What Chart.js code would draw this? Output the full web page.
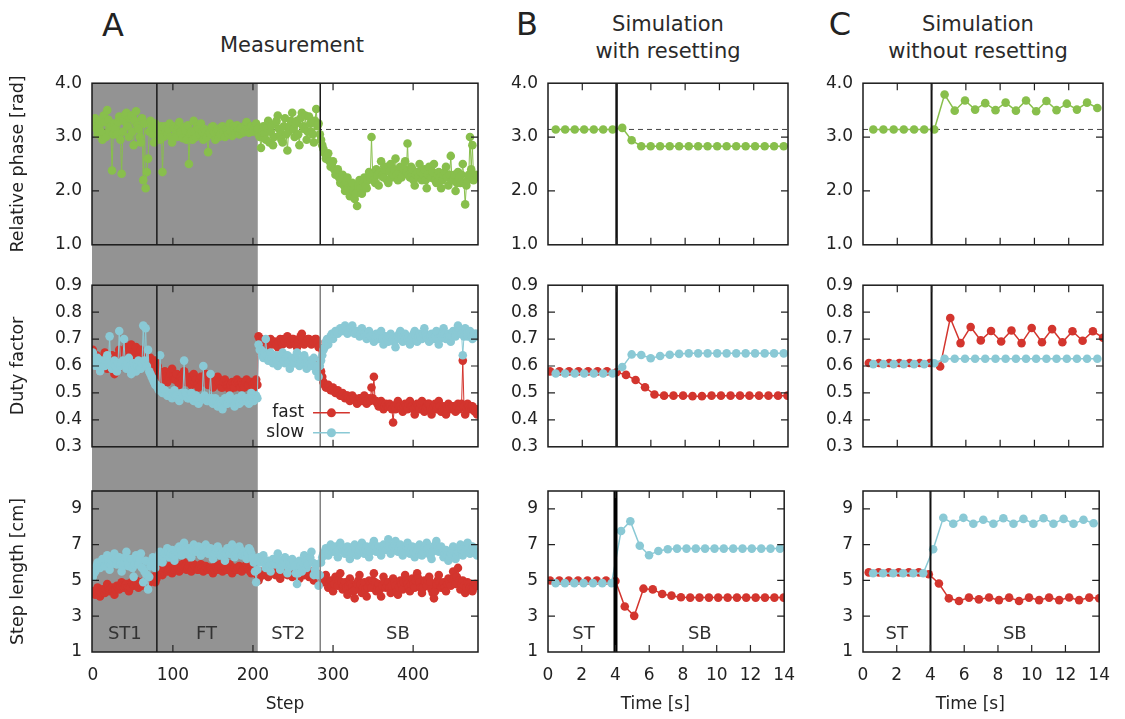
<!DOCTYPE html>
<html><head><meta charset="utf-8">
<script src="https://cdn.jsdelivr.net/npm/chart.js@4.4.1/dist/chart.umd.min.js"></script>
<style>
html,body{margin:0;padding:0;background:#fff;}
body{width:1125px;height:719px;position:relative;overflow:hidden;font-family:'DejaVu Sans',sans-serif;color:#2a2a2a;}
canvas{position:absolute;}
.t{position:absolute;text-align:center;white-space:nowrap;}
</style></head><body>
<div class="t" style="left:63px;top:9px;width:100px;font-size:32px;line-height:32px;color:#222;">A</div>
<div class="t" style="left:192px;top:35px;width:200px;font-size:21px;line-height:21px;">Measurement</div>
<div class="t" style="left:477px;top:8px;width:100px;font-size:32px;line-height:32px;color:#222;">B</div>
<div class="t" style="left:568px;top:11px;width:200px;font-size:21px;line-height:27px;">Simulation<br>with resetting</div>
<div class="t" style="left:790px;top:8px;width:100px;font-size:32px;line-height:32px;color:#222;">C</div>
<div class="t" style="left:878px;top:11px;width:200px;font-size:21px;line-height:27px;">Simulation<br>without resetting</div>
<script>
// ---------- DATA ----------
// Panel A (measurement). "...A" arrays: samples at steps 0,3,6,...,480;
// "...A2" arrays: samples at steps 1.5,4.5,...,478.5 (read between them).
const phaseA = [
3.22,3.35,3.05,3.30,2.95,3.28,3.50,3.10,2.38,3.25,
3.05,3.38,2.32,3.30,3.45,3.00,3.40,2.85,3.48,3.15,
2.90,2.20,2.05,2.60,3.30,3.05,3.25,3.15,2.95,2.35,
3.20,3.05,3.25,2.90,3.15,3.00,3.28,3.05,3.18,2.95,
2.50,3.10,3.30,3.00,3.15,3.25,2.95,3.10,2.72,3.05,
3.20,2.95,3.15,3.05,3.20,3.00,3.12,3.25,3.02,3.15,
3.22,3.05,3.18,3.10,3.28,3.08,3.20,3.12,3.25,3.05,
2.80,3.20,2.95,3.30,3.10,2.85,3.25,3.40,3.05,2.90,
3.35,2.75,3.20,3.45,3.00,3.30,2.85,3.45,3.15,2.95,
3.38,3.10,2.90,3.52,3.25,2.95,2.78,2.60,2.70,2.45,
2.55,2.30,2.40,2.15,2.30,2.00,2.25,1.90,2.15,1.85,
1.72,2.20,1.95,2.25,2.05,2.35,3.00,2.20,2.40,2.10,
2.55,2.25,2.45,2.15,2.50,2.30,2.60,2.20,2.45,2.30,
2.55,2.88,2.25,2.40,2.10,2.35,2.50,2.20,2.40,2.05,
2.45,2.25,2.50,2.15,2.35,2.05,2.30,2.45,2.10,2.65,
2.20,2.00,2.35,2.15,2.50,1.75,2.20,3.00,2.85,2.25,
2.28];
const phaseA2 = [
3.30,3.15,3.20,3.10,3.40,3.00,3.32,3.20,3.05,3.15,
3.28,2.95,3.10,3.42,3.20,3.35,3.10,3.30,3.22,3.00,
3.35,3.25,2.35,3.10,3.20,2.90,3.10,3.05,3.20,3.00,
3.10,3.15,3.00,3.20,3.05,3.18,3.10,2.98,3.12,3.22,
3.05,2.95,3.12,3.20,3.05,3.10,3.15,3.00,3.08,3.18,
3.08,3.12,3.00,3.18,3.10,3.15,3.05,3.10,3.20,3.08,
3.12,3.15,3.08,3.22,3.15,3.18,3.10,3.20,3.15,3.00,
3.10,3.05,3.18,2.90,3.22,3.00,3.30,3.15,2.95,3.20,
3.05,3.10,3.30,3.15,3.25,3.05,3.35,3.20,3.40,3.10,
3.25,3.05,3.30,3.20,3.05,2.85,2.70,2.65,2.55,2.50,
2.40,2.35,2.25,2.20,2.10,2.15,2.05,2.10,2.00,1.95,
2.10,2.05,2.15,2.10,2.20,2.25,2.30,2.15,2.30,2.35,
2.30,2.40,2.20,2.35,2.25,2.40,2.30,2.35,2.25,2.40,
2.35,2.30,2.45,2.20,2.30,2.25,2.35,2.30,2.20,2.30,
2.25,2.35,2.20,2.30,2.25,2.20,2.35,2.25,2.30,2.20,
2.30,2.15,2.25,2.30,2.15,2.10,2.30,2.40,2.20,2.30];
const dutyFastA = [
0.66,0.60,0.63,0.58,0.62,0.65,0.59,0.61,0.64,0.57,
0.62,0.66,0.60,0.63,0.67,0.61,0.68,0.64,0.67,0.62,
0.66,0.60,0.64,0.61,0.63,0.58,0.62,0.60,0.57,0.55,
0.58,0.54,0.56,0.59,0.55,0.57,0.53,0.56,0.58,0.54,
0.56,0.53,0.57,0.55,0.52,0.56,0.54,0.57,0.53,0.55,
0.52,0.54,0.56,0.53,0.52,0.55,0.53,0.51,0.54,0.52,
0.55,0.53,0.54,0.52,0.55,0.53,0.54,0.52,0.55,0.71,
0.70,0.68,0.69,0.66,0.70,0.68,0.69,0.67,0.70,0.68,
0.69,0.71,0.68,0.70,0.69,0.67,0.70,0.72,0.68,0.69,
0.70,0.68,0.69,0.70,0.67,0.58,0.54,0.52,0.53,0.51,
0.52,0.50,0.51,0.49,0.50,0.48,0.49,0.47,0.49,0.48,
0.46,0.48,0.47,0.49,0.46,0.48,0.52,0.56,0.47,0.45,
0.47,0.44,0.46,0.45,0.45,0.39,0.44,0.47,0.45,0.43,
0.46,0.44,0.47,0.45,0.42,0.46,0.44,0.47,0.43,0.45,
0.46,0.42,0.45,0.44,0.47,0.43,0.45,0.42,0.46,0.44,
0.45,0.43,0.46,0.45,0.62,0.42,0.46,0.44,0.45,0.43,
0.42];
const dutyFastA2 = [
0.62,0.64,0.60,0.63,0.61,0.62,0.63,0.60,0.62,0.61,
0.64,0.62,0.65,0.61,0.64,0.66,0.62,0.65,0.63,0.64,
0.62,0.63,0.61,0.62,0.60,0.61,0.59,0.58,0.56,0.57,
0.56,0.55,0.57,0.56,0.55,0.54,0.56,0.55,0.56,0.55,
0.54,0.55,0.54,0.53,0.55,0.54,0.55,0.54,0.54,0.53,
0.53,0.55,0.54,0.52,0.54,0.53,0.52,0.53,0.53,0.54,
0.54,0.52,0.53,0.54,0.53,0.54,0.53,0.54,0.53,0.70,
0.69,0.69,0.68,0.68,0.69,0.69,0.68,0.69,0.69,0.70,
0.70,0.69,0.69,0.70,0.68,0.69,0.71,0.70,0.69,0.70,
0.69,0.69,0.70,0.69,0.62,0.56,0.53,0.52,0.52,0.51,
0.51,0.50,0.50,0.49,0.49,0.49,0.48,0.48,0.48,0.47,
0.47,0.48,0.48,0.47,0.47,0.47,0.48,0.47,0.46,0.46,
0.46,0.45,0.45,0.46,0.44,0.45,0.46,0.45,0.44,0.45,
0.45,0.46,0.45,0.44,0.45,0.45,0.46,0.44,0.44,0.46,
0.44,0.44,0.46,0.45,0.45,0.44,0.44,0.45,0.45,0.45,
0.44,0.45,0.44,0.46,0.45,0.44,0.45,0.45,0.44,0.44];
const dutySlowA = [
0.65,0.60,0.63,0.58,0.62,0.60,0.64,0.71,0.59,0.62,
0.58,0.73,0.61,0.70,0.59,0.63,0.57,0.61,0.58,0.62,
0.59,0.75,0.74,0.66,0.57,0.55,0.53,0.52,0.64,0.50,
0.51,0.49,0.50,0.48,0.51,0.49,0.47,0.50,0.62,0.49,
0.48,0.50,0.47,0.49,0.46,0.48,0.60,0.48,0.47,0.57,
0.46,0.48,0.45,0.47,0.44,0.48,0.46,0.49,0.47,0.45,
0.48,0.46,0.49,0.47,0.48,0.46,0.50,0.47,0.49,0.68,
0.66,0.63,0.70,0.62,0.65,0.61,0.64,0.60,0.63,0.65,
0.61,0.64,0.59,0.63,0.61,0.65,0.60,0.62,0.64,0.59,
0.62,0.60,0.63,0.58,0.56,0.62,0.66,0.69,0.68,0.71,
0.70,0.73,0.72,0.74,0.73,0.75,0.72,0.74,0.75,0.72,
0.73,0.71,0.74,0.72,0.70,0.73,0.71,0.69,0.72,0.70,
0.73,0.68,0.71,0.69,0.72,0.70,0.67,0.71,0.73,0.69,
0.72,0.70,0.68,0.71,0.73,0.69,0.72,0.70,0.74,0.71,
0.69,0.72,0.70,0.73,0.68,0.71,0.74,0.70,0.72,0.69,
0.73,0.71,0.75,0.72,0.64,0.74,0.71,0.73,0.70,0.72,
0.71];
const dutySlowA2 = [
0.62,0.61,0.60,0.61,0.60,0.62,0.61,0.60,0.61,0.60,
0.61,0.60,0.62,0.60,0.61,0.60,0.59,0.60,0.60,0.59,
0.61,0.62,0.60,0.58,0.56,0.54,0.53,0.51,0.52,0.50,
0.50,0.49,0.49,0.50,0.49,0.48,0.49,0.49,0.50,0.48,
0.49,0.48,0.48,0.48,0.47,0.48,0.49,0.47,0.48,0.48,
0.47,0.47,0.46,0.46,0.47,0.46,0.48,0.47,0.46,0.47,
0.47,0.48,0.47,0.48,0.47,0.47,0.48,0.48,0.48,0.66,
0.64,0.65,0.64,0.63,0.63,0.62,0.62,0.62,0.64,0.62,
0.63,0.61,0.62,0.61,0.63,0.62,0.61,0.63,0.61,0.61,
0.61,0.62,0.60,0.60,0.60,0.64,0.67,0.70,0.70,0.72,
0.72,0.73,0.73,0.73,0.74,0.73,0.73,0.74,0.73,0.73,
0.72,0.72,0.73,0.71,0.72,0.71,0.70,0.71,0.71,0.71,
0.70,0.70,0.70,0.71,0.71,0.69,0.70,0.72,0.71,0.71,
0.71,0.69,0.70,0.72,0.71,0.71,0.71,0.72,0.72,0.70,
0.71,0.71,0.71,0.70,0.70,0.72,0.72,0.71,0.71,0.71,
0.72,0.73,0.73,0.72,0.71,0.72,0.72,0.71,0.71,0.72];
const lenFastA = [
4.4,4.2,4.6,4.1,4.5,4.3,4.8,4.4,4.6,4.2,
4.7,4.5,4.9,4.6,4.8,4.4,4.9,4.7,5.0,4.6,
4.9,4.7,5.1,4.8,5.0,5.2,4.9,5.4,5.6,5.3,
5.7,5.5,5.8,5.4,5.6,5.9,5.5,5.7,6.0,5.6,
5.8,5.5,5.9,5.7,5.6,5.9,5.5,5.8,5.6,5.7,
5.4,5.8,5.6,5.9,5.5,5.7,5.6,5.9,5.4,5.7,
5.6,5.8,5.5,5.7,5.9,5.6,5.4,5.7,5.5,5.0,
5.5,5.3,5.6,5.2,5.5,5.8,5.3,5.6,5.1,5.4,
5.7,5.3,5.5,5.2,5.6,5.4,5.1,5.5,5.3,5.6,
5.2,5.5,5.0,5.4,5.2,5.2,4.9,5.3,4.6,5.0,
4.4,5.2,4.7,5.4,4.5,4.9,4.2,5.1,4.6,4.0,
4.8,5.3,4.3,4.9,4.1,5.0,4.6,5.4,4.4,4.8,
4.1,5.2,4.6,4.9,4.3,5.1,4.7,4.2,5.0,4.5,
5.3,4.8,4.4,5.1,4.6,5.4,4.9,4.3,5.0,4.7,
5.2,4.5,4.0,4.8,5.3,4.6,4.9,4.4,5.1,4.7,
5.5,4.8,5.7,4.5,5.0,4.3,4.9,4.6,4.4,4.8,
4.7];
const lenFastA2 = [
4.3,4.4,4.3,4.3,4.4,4.5,4.6,4.5,4.4,4.5,
4.6,4.7,4.7,4.7,4.6,4.6,4.8,4.8,4.8,4.8,
4.8,4.9,4.9,4.9,5.1,5.0,5.1,5.5,5.5,5.5,
5.6,5.6,5.6,5.5,5.7,5.7,5.6,5.8,5.8,5.7,
5.7,5.7,5.8,5.6,5.8,5.7,5.6,5.7,5.7,5.6,
5.6,5.7,5.8,5.7,5.6,5.6,5.8,5.6,5.6,5.6,
5.7,5.7,5.6,5.8,5.7,5.5,5.6,5.6,5.3,5.2,
5.4,5.5,5.4,5.4,5.6,5.5,5.5,5.3,5.3,5.5,
5.5,5.4,5.4,5.4,5.5,5.3,5.3,5.4,5.4,5.4,
5.3,5.2,5.2,5.3,5.2,5.0,5.1,4.9,4.8,4.7,
4.8,5.0,5.0,4.9,4.7,4.6,4.7,4.8,4.4,4.5,
5.0,4.8,4.6,4.5,4.6,4.8,5.0,4.9,4.6,4.5,
4.7,4.9,4.7,4.6,4.7,4.9,4.4,4.6,4.8,4.9,
5.0,4.6,4.8,4.8,5.0,5.1,4.6,4.6,4.9,5.0,
4.9,4.3,4.4,5.0,4.9,4.8,4.6,4.8,4.9,5.1,
5.1,5.2,5.0,4.8,4.7,4.6,4.8,4.5,4.6,4.8];
const lenSlowA = [
5.2,5.5,6.0,5.7,6.2,5.8,6.4,5.6,6.1,6.5,
5.9,6.3,5.5,6.0,6.6,5.8,6.2,5.2,6.4,5.9,
6.5,4.9,6.1,4.5,5.8,6.3,5.7,6.2,6.6,6.0,
6.5,6.8,6.3,6.7,6.1,6.6,6.9,6.4,7.1,6.5,
6.8,6.3,7.0,6.6,6.9,6.4,6.7,7.0,6.5,6.8,
6.2,6.7,6.9,6.4,6.6,6.1,6.8,6.5,7.0,6.3,
6.7,6.9,6.4,6.6,6.2,6.8,6.5,6.0,4.9,6.3,
6.0,6.4,5.7,6.1,5.5,6.2,5.9,6.5,5.6,6.0,
6.3,5.4,5.9,6.2,5.8,4.8,6.1,5.5,6.4,5.7,
6.0,6.6,5.3,5.9,4.7,6.0,6.5,6.8,6.4,7.0,
6.6,6.9,6.3,7.1,6.7,6.5,6.9,6.2,6.8,7.0,
6.4,6.7,7.1,6.5,6.9,6.3,6.8,7.2,6.6,6.9,
6.4,7.0,6.7,7.3,6.5,6.9,7.2,6.6,7.0,6.4,
6.8,7.1,6.5,6.9,6.3,6.7,7.0,6.4,6.8,7.1,
6.5,6.2,6.9,7.2,6.6,6.9,6.3,6.7,6.1,6.5,
6.9,6.2,6.6,7.0,6.4,6.8,7.1,6.5,6.9,6.6,
6.4];
const lenSlowA2 = [
5.4,5.8,5.8,6.0,6.0,6.1,6.0,5.9,6.3,6.2,
6.1,5.9,5.8,6.3,6.2,6.0,5.7,5.9,6.2,6.2,
5.7,5.5,5.3,5.2,6.1,6.0,6.0,6.4,6.3,6.3,
6.6,6.6,6.5,6.4,6.4,6.8,6.7,6.8,6.8,6.7,
6.6,6.7,6.8,6.8,6.7,6.6,6.9,6.8,6.7,6.5,
6.5,6.8,6.7,6.5,6.4,6.5,6.7,6.8,6.7,6.5,
6.8,6.7,6.5,6.4,6.5,6.7,6.3,5.5,5.6,6.1,
6.2,6.1,5.9,5.8,5.9,6.0,6.2,6.1,5.8,6.1,
5.9,5.7,6.0,6.0,5.4,5.4,5.8,6.0,6.1,5.9,
6.3,6.0,5.6,5.3,5.3,6.3,6.6,6.6,6.7,6.8,
6.7,6.6,6.7,6.9,6.6,6.7,6.6,6.5,6.9,6.7,
6.6,6.9,6.8,6.7,6.6,6.6,7.0,6.9,6.8,6.6,
6.7,6.9,7.0,6.9,6.7,7.0,6.9,6.8,6.7,6.6,
6.9,6.8,6.7,6.6,6.5,6.9,6.7,6.6,6.9,6.8,
6.4,6.6,7.0,6.9,6.8,6.6,6.5,6.4,6.3,6.7,
6.6,6.4,6.8,6.7,6.6,7.0,6.8,6.7,6.8,6.5];

// merge the two sample sets into one series ordered by step (step = index * 1.5)
function merge(a, b) { const out = []; a.forEach((v, i) => { out.push(v); if (i < b.length) out.push(b[i]); }); return out; }
const phaseAll = merge(phaseA, phaseA2);
const dutyFastAll = merge(dutyFastA, dutyFastA2);
const dutySlowAll = merge(dutySlowA, dutySlowA2);
const lenFastAll = merge(lenFastA, lenFastA2);
const lenSlowAll = merge(lenSlowA, lenSlowA2);
const stepA = phaseAll.map((_, i) => i * 1.5);

// Panel B (simulation with resetting)
const timeB     = [0.45,1.00,1.56,2.11,2.67,3.22,3.77,4.33,4.88,5.44,5.99,6.54,7.10,7.65,8.21,8.76,9.31,9.87,10.42,10.98,11.53,12.08,12.64,13.19,13.75];
const timeBfast = [0.12,0.67,1.23,1.78,2.34,2.89,3.44,4.00,4.55,5.11,5.66,6.21,6.77,7.32,7.88,8.43,8.98,9.54,10.09,10.65,11.20,11.75,12.31,12.86,13.42,13.97];
const phaseB    = [3.14,3.14,3.14,3.14,3.14,3.14,3.14,3.17,2.94,2.83,2.83,2.83,2.83,2.83,2.83,2.83,2.83,2.83,2.83,2.83,2.83,2.83,2.83,2.83,2.83];
const dutyFastB = [0.58,0.58,0.58,0.58,0.58,0.58,0.58,0.577,0.567,0.548,0.521,0.494,0.49,0.49,0.49,0.488,0.488,0.49,0.49,0.49,0.49,0.49,0.49,0.49,0.49,0.49];
const dutySlowB = [0.572,0.572,0.572,0.572,0.572,0.572,0.572,0.596,0.643,0.641,0.629,0.637,0.642,0.645,0.647,0.647,0.647,0.647,0.647,0.647,0.647,0.647,0.647,0.647,0.647];
const lenFastB  = [5.0,5.0,5.0,5.0,5.0,5.0,5.0,4.97,3.54,3.02,4.54,4.50,4.24,4.15,4.06,4.04,4.04,4.04,4.04,4.04,4.04,4.04,4.04,4.04,4.04,4.04];
const lenSlowB  = [4.85,4.85,4.85,4.85,4.85,4.85,4.85,7.76,8.31,6.94,6.41,6.65,6.74,6.78,6.78,6.78,6.78,6.78,6.78,6.78,6.78,6.78,6.78,6.78,6.78];

// Panel C (simulation without resetting)
const timeC     = [0.60,1.19,1.79,2.38,2.98,3.57,4.16,4.76,5.35,5.95,6.54,7.13,7.73,8.32,8.92,9.51,10.10,10.70,11.29,11.89,12.48,13.07,13.67];
const timeCfast = [0.34,0.93,1.53,2.12,2.72,3.31,3.90,4.50,5.09,5.69,6.28,6.87,7.47,8.06,8.66,9.25,9.84,10.44,11.03,11.63,12.22,12.81,13.41,14.00];
const phaseC    = [3.14,3.14,3.14,3.14,3.14,3.14,3.14,3.79,3.49,3.68,3.51,3.63,3.50,3.64,3.49,3.68,3.48,3.67,3.50,3.62,3.51,3.64,3.54];
const dutyFastC = [0.611,0.611,0.611,0.611,0.611,0.611,0.611,0.598,0.778,0.685,0.745,0.695,0.730,0.691,0.732,0.685,0.741,0.688,0.737,0.688,0.729,0.694,0.729,0.705];
const dutySlowC = [0.607,0.607,0.607,0.607,0.607,0.607,0.610,0.627,0.627,0.627,0.627,0.627,0.627,0.627,0.627,0.627,0.627,0.627,0.627,0.627,0.627,0.627,0.627];
const lenFastC  = [5.45,5.45,5.45,5.45,5.45,5.45,5.35,4.83,4.00,3.85,4.04,3.94,4.05,3.90,4.04,3.85,4.04,3.90,4.04,3.90,4.05,3.90,4.04,4.00];
const lenSlowC  = [5.40,5.40,5.40,5.40,5.40,5.40,6.74,8.50,8.17,8.50,8.17,8.39,8.17,8.48,8.17,8.44,8.17,8.48,8.17,8.44,8.17,8.39,8.20];

// Ticks / labels
const xTicksA = [0,100,200,300,400];
const xTicksBC = [0,2,4,6,8,10,12,14];
const yTicksPhase = [1,2,3,4];       const yLabelsPhase = ['1.0','2.0','3.0','4.0'];
const yTicksDuty = [0.3,0.4,0.5,0.6,0.7,0.8,0.9]; const yLabelsDuty = ['0.3','0.4','0.5','0.6','0.7','0.8','0.9'];
const yTicksLen = [1,3,5,7,9];       const yLabelsLen = ['1','3','5','7','9'];
const phasesA = [{text:'ST1',at:40},{text:'FT',at:142},{text:'ST2',at:244},{text:'SB',at:381}];
const phasesB = [{text:'ST',at:2.1},{text:'SB',at:9.0}];
const phasesC = [{text:'ST',at:2.0},{text:'SB',at:9.0}];
const boundariesA = [80, 284];  // ST1|FT and ST2|SB
const shadeEndA = 206;          // end of the treadmill (grey) part
const switchTime = 4;

const GREEN = '#88bf4c', RED = '#d3352e', CYAN = '#8ac9d5', SHADE = '#939393';
const FONT = 'DejaVu Sans';
Chart.defaults.font.family = FONT;

// ---------- decorations plugin ----------
const deco = {
  id: 'deco',
  beforeDraw(chart, args, o) {
    if (!o.shade) return;
    const {ctx, chartArea: a, scales: {x}} = chart;
    const x1 = x.getPixelForValue(o.shade.to);
    const y0 = o.shade.clipTop ? a.top : 0;
    const y1 = o.shade.clipBottom ? a.bottom : chart.height;
    ctx.save(); ctx.fillStyle = SHADE; ctx.fillRect(a.left, y0, x1 - a.left, y1 - y0); ctx.restore();
  },
  beforeDatasetsDraw(chart, args, o) {
    const {ctx, chartArea: a, scales: {y}} = chart;
    if (o.hline == null) return;
    const py = y.getPixelForValue(o.hline);
    ctx.save(); ctx.strokeStyle = '#444'; ctx.lineWidth = 1; ctx.setLineDash([5, 4]);
    ctx.beginPath(); ctx.moveTo(a.left, py); ctx.lineTo(a.right, py); ctx.stroke(); ctx.restore();
  },
  afterDatasetsDraw(chart, args, o) {
    const {ctx, chartArea: a, scales: {x, y}} = chart;
    ctx.save();
    (o.vlines || []).forEach(v => {
      const px = x.getPixelForValue(v.value);
      ctx.strokeStyle = v.color; ctx.lineWidth = v.width;
      ctx.beginPath(); ctx.moveTo(px, a.top); ctx.lineTo(px, a.bottom); ctx.stroke();
    });
    // inward tick marks on all four sides
    const L = 7;
    ctx.strokeStyle = '#222'; ctx.lineWidth = 1.2;
    x.ticks.forEach(t => {
      const px = x.getPixelForValue(t.value);
      if (px <= a.left + 1 || px >= a.right - 1) return;
      ctx.beginPath(); ctx.moveTo(px, a.top); ctx.lineTo(px, a.top + L);
      ctx.moveTo(px, a.bottom); ctx.lineTo(px, a.bottom - L); ctx.stroke();
    });
    y.ticks.forEach(t => {
      const py = y.getPixelForValue(t.value);
      if (py <= a.top + 1 || py >= a.bottom - 1) return;
      ctx.beginPath(); ctx.moveTo(a.left, py); ctx.lineTo(a.left + L, py);
      ctx.moveTo(a.right, py); ctx.lineTo(a.right - L, py); ctx.stroke();
    });
    // frame
    ctx.strokeStyle = '#1a1a1a'; ctx.lineWidth = 1.5;
    ctx.strokeRect(a.left, a.top, a.right - a.left, a.bottom - a.top);
    // phase labels
    if (o.phases) {
      ctx.font = '18px "' + FONT + '"'; ctx.fillStyle = '#333';
      ctx.textAlign = 'center'; ctx.textBaseline = 'middle';
      o.phases.forEach(p => ctx.fillText(p.text, x.getPixelForValue(p.at), y.getPixelForValue(o.phaseY)));
    }
    // legend
    if (o.legend) {
      const lg = o.legend;
      ctx.font = '17px "' + FONT + '"'; ctx.textAlign = 'right'; ctx.textBaseline = 'middle';
      lg.items.forEach(it => {
        const py = y.getPixelForValue(it.y);
        ctx.fillStyle = '#222'; ctx.fillText(it.text, x.getPixelForValue(lg.textRight), py);
        ctx.strokeStyle = it.color; ctx.lineWidth = 1.5;
        ctx.beginPath(); ctx.moveTo(x.getPixelForValue(lg.lineFrom), py); ctx.lineTo(x.getPixelForValue(lg.lineTo), py); ctx.stroke();
        ctx.fillStyle = it.color; ctx.beginPath();
        ctx.arc(x.getPixelForValue((lg.lineFrom + lg.lineTo) / 2), py, 4.5, 0, Math.PI * 2); ctx.fill();
      });
    }
    ctx.restore();
  }
};

// ---------- panel builder ----------
function panel(p) {
  const cv = document.createElement('canvas');
  cv.width = p.w; cv.height = p.h;
  cv.style.left = p.left + 'px'; cv.style.top = p.top + 'px';
  cv.style.width = p.w + 'px'; cv.style.height = p.h + 'px';
  document.body.appendChild(cv);
  const tickFont = {family: FONT, size: 17};
  new Chart(cv, {
    type: 'line',
    data: {datasets: p.series.map(s => ({
      data: s.x.map((xv, i) => ({x: xv, y: s.y[i]})),
      borderColor: s.color, backgroundColor: s.color,
      pointBackgroundColor: s.color, pointBorderColor: s.color,
      borderWidth: s.lw, pointRadius: s.r, pointBorderWidth: 0, pointHoverRadius: s.r,
      tension: 0, fill: false
    }))},
    options: {
      responsive: false, animation: false, devicePixelRatio: 1, events: [],
      layout: {padding: {left: 0, right: p.pr, top: p.pt, bottom: p.pb}},
      plugins: {legend: {display: false}, tooltip: {enabled: false}, deco: p.deco},
      scales: {
        x: {
          type: 'linear', min: p.xmin, max: p.xmax, display: !!p.xTitle,
          afterBuildTicks: s => { s.ticks = p.xTicks.map(v => ({value: v})); },
          afterFit: s => { s.height = p.xTitle ? 63 : 0; },
          grid: {display: false, drawTicks: false}, border: {display: false},
          ticks: {font: tickFont, color: '#222', padding: 13, autoSkip: false, maxRotation: 0,
                  callback: v => String(v)},
          title: p.xTitle ? {display: true, text: p.xTitle, font: tickFont, color: '#222', padding: 0} : {display: false}
        },
        y: {
          type: 'linear', min: p.ymin, max: p.ymax,
          afterBuildTicks: s => { s.ticks = p.yTicks.map(v => ({value: v})); },
          afterFit: s => { s.width = p.wy; },
          grid: {display: false, drawTicks: false}, border: {display: false},
          ticks: {font: tickFont, color: '#222', padding: 10, autoSkip: false,
                  callback: (v, i) => p.yLabels[i]},
          title: p.yTitle ? {display: true, text: p.yTitle, font: {family: FONT, size: 17.5}, color: '#222', padding: {top: 8, bottom: 0}} : {display: false}
        }
      }
    },
    plugins: [deco]
  });
}

// layout of columns and rows
const cols = {
  A: {left: 0, wy: 92, w: 488, pr: 10, xmin: -1, xmax: 481, xTicks: xTicksA},
  B: {left: 488, wy: 60, w: 320, pr: 20, xmin: 0, xmax: 14, xTicks: xTicksBC},
  C: {left: 803, wy: 60, w: 320, pr: 20, xmin: 0, xmax: 14, xTicks: xTicksBC}
};
const rows = [
  {top: 63, h: 202, pt: 20, pb: 20, ymin: 1, ymax: 4, yTicks: yTicksPhase, yLabels: yLabelsPhase},
  {top: 265, h: 202, pt: 20, pb: 20, ymin: 0.3, ymax: 0.9, yTicks: yTicksDuty, yLabels: yLabelsDuty},
  {top: 467, h: 252, pt: 24, pb: 4, ymin: 1, ymax: 10, yTicks: yTicksLen, yLabels: yLabelsLen}
];
function mk(col, row, extra) { panel(Object.assign({}, cols[col], rows[row], extra)); }

const rA = 4.3, lwA = 1.0, rS = 4.3, lwS = 1.5;
// Column A
mk('A', 0, {yTitle: 'Relative phase [rad]',
  series: [{x: stepA, y: phaseAll, color: GREEN, r: rA, lw: lwA}],
  deco: {shade: {to: shadeEndA, clipTop: true}, hline: Math.PI,
         vlines: [{value: boundariesA[0], color: '#1a1a1a', width: 1.5}, {value: boundariesA[1], color: '#1a1a1a', width: 1.5}]}});
mk('A', 1, {yTitle: 'Duty factor',
  series: [{x: stepA, y: dutySlowAll, color: CYAN, r: rA, lw: lwA}, {x: stepA, y: dutyFastAll, color: RED, r: rA, lw: lwA}],
  deco: {shade: {to: shadeEndA},
         vlines: [{value: boundariesA[0], color: '#1a1a1a', width: 1.5}, {value: boundariesA[1], color: '#808080', width: 1.5}],
         legend: {textRight: 264, lineFrom: 275, lineTo: 321, items: [{text: 'fast', color: RED, y: 0.426}, {text: 'slow', color: CYAN, y: 0.352}]}}});
mk('A', 2, {yTitle: 'Step length [cm]', xTitle: 'Step',
  series: [{x: stepA, y: lenSlowAll, color: CYAN, r: rA, lw: lwA}, {x: stepA, y: lenFastAll, color: RED, r: rA, lw: lwA}],
  deco: {shade: {to: shadeEndA, clipBottom: true},
         vlines: [{value: boundariesA[0], color: '#1a1a1a', width: 1.5}, {value: boundariesA[1], color: '#808080', width: 1.5}],
         phases: phasesA, phaseY: 2}});
// Column B
mk('B', 0, {series: [{x: timeB, y: phaseB, color: GREEN, r: rS, lw: lwS}],
  deco: {hline: Math.PI, vlines: [{value: switchTime, color: '#111', width: 2.5}]}});
mk('B', 1, {series: [{x: timeB, y: dutySlowB, color: CYAN, r: rS, lw: lwS}, {x: timeBfast, y: dutyFastB, color: RED, r: rS, lw: lwS}],
  deco: {vlines: [{value: switchTime, color: '#111', width: 2.5}]}});
mk('B', 2, {xTitle: 'Time [s]    ',
  series: [{x: timeB, y: lenSlowB, color: CYAN, r: rS, lw: lwS}, {x: timeBfast, y: lenFastB, color: RED, r: rS, lw: lwS}],
  deco: {vlines: [{value: switchTime, color: '#000', width: 4}], phases: phasesB, phaseY: 2}});
// Column C
mk('C', 0, {series: [{x: timeC, y: phaseC, color: GREEN, r: rS, lw: lwS}],
  deco: {hline: Math.PI, vlines: [{value: switchTime, color: '#111', width: 2}]}});
mk('C', 1, {series: [{x: timeC, y: dutySlowC, color: CYAN, r: rS, lw: lwS}, {x: timeCfast, y: dutyFastC, color: RED, r: rS, lw: lwS}],
  deco: {vlines: [{value: switchTime, color: '#111', width: 2}]}});
mk('C', 2, {xTitle: 'Time [s]    ',
  series: [{x: timeC, y: lenSlowC, color: CYAN, r: rS, lw: lwS}, {x: timeCfast, y: lenFastC, color: RED, r: rS, lw: lwS}],
  deco: {vlines: [{value: switchTime, color: '#111', width: 2}], phases: phasesC, phaseY: 2}});
</script>
</body></html>
